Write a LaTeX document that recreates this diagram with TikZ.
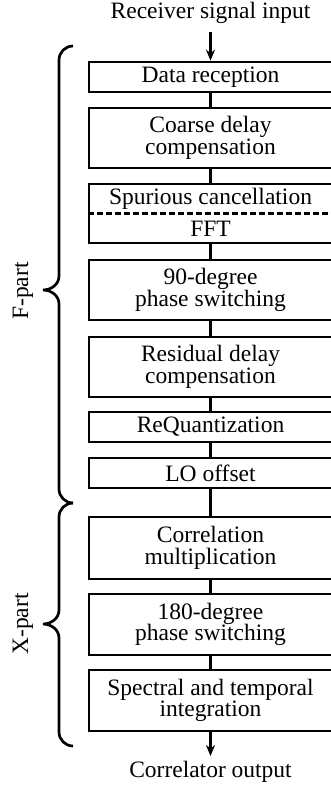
\documentclass[tikz,border=0pt]{standalone}
\usepackage{fontspec}
\setmainfont{Liberation Serif}
\usetikzlibrary{arrows.meta}

\begin{document}
\begin{tikzpicture}[x=1pt,y=-1pt]
		\tikzstyle{BlockStyle}=[draw,line width=2.7pt,minimum width=243pt,inner sep=0pt,align=center,font=\fontsize{23.5}{21.5}\selectfont]
		\tikzstyle{TextStyle}=[inner sep=0pt,font=\fontsize{23.5}{21.5}\selectfont]
		\tikzstyle{EdgeStyle}=[line width=2.7pt]
		\tikzstyle{ArrowStyle}=[line width=2.7pt,-{Stealth[length=11pt,width=9pt]}]
		\tikzstyle{BraceStyle}=[line width=2.7pt]
		\useasboundingbox (0,0) rectangle (330,789);
		% input and output
		\node[TextStyle] (input) at (210.5,12.5) {Receiver signal input};
		\coordinate (inend) at (210.5,32);
		\node[TextStyle] (output) at (210.5,772) {Correlator output};
		\coordinate (outend) at (210.5,756);
		% F-part blocks
		\node[BlockStyle,minimum height=30pt] (data) at (210.5,77) {Data reception};
		\node[BlockStyle,minimum height=60pt] (coarse) at (210.5,138) {Coarse delay\\compensation};
		\node[BlockStyle,minimum height=59pt] (spurfft) at (210.5,213.5) {};
		\node[TextStyle] (spur) at (210.5,198.5) {Spurious cancellation};
		\node[TextStyle] (fft) at (210.5,228.5) {FFT};
		\node[BlockStyle,minimum height=60pt] (phase90) at (210.5,290) {90-degree\\phase switching};
		\node[BlockStyle,minimum height=60pt] (resid) at (210.5,367) {Residual delay\\compensation};
		\node[BlockStyle,minimum height=30pt] (requant) at (210.5,427) {ReQuantization};
		\node[BlockStyle,minimum height=30pt] (lo) at (210.5,473) {LO offset};
		% X-part blocks
		\node[BlockStyle,minimum height=62pt] (corr) at (210.5,548) {Correlation\\multiplication};
		\node[BlockStyle,minimum height=61pt] (phase180) at (210.5,624.5) {180-degree\\phase switching};
		\node[BlockStyle,minimum height=61pt] (integ) at (210.5,700.5) {Spectral and temporal\\integration};
		% \draw[EdgeStyle,dashed] (spurfft.west) -- (spurfft.east);
		\draw[line width=2.2pt,dash pattern=on 6pt off 3pt] (spurfft.west) -- (spurfft.east);
		\draw[ArrowStyle] (inend) -- (data);
		\draw[EdgeStyle] (data) -- (coarse);
		\draw[EdgeStyle] (coarse) -- (spurfft);
		\draw[EdgeStyle] (spurfft) -- (phase90);
		\draw[EdgeStyle] (phase90) -- (resid);
		\draw[EdgeStyle] (resid) -- (requant);
		\draw[EdgeStyle] (requant) -- (lo);
		\draw[EdgeStyle] (lo) -- (corr);
		\draw[EdgeStyle] (corr) -- (phase180);
		\draw[EdgeStyle] (phase180) -- (integ);
		\draw[ArrowStyle] (integ) -- (outend);
		% braces
		\draw[BraceStyle] (73,46) to[out=180,in=90] (59,60) -- (59,276)
			to[out=-90,in=0] (43,290) to[out=0,in=90] (59,304) -- (59,489)
			to[out=-90,in=180] (73,503);
		\draw[BraceStyle] (73,503) to[out=180,in=90] (59,517) -- (59,610)
			to[out=-90,in=0] (43,624) to[out=0,in=90] (59,638) -- (59,732)
			to[out=-90,in=180] (73,746);
		\node[TextStyle,rotate=90] (fpart) at (23,291) {F-part};
		\node[TextStyle,rotate=90] (xpart) at (23,624) {X-part};
\end{tikzpicture}
\end{document}
